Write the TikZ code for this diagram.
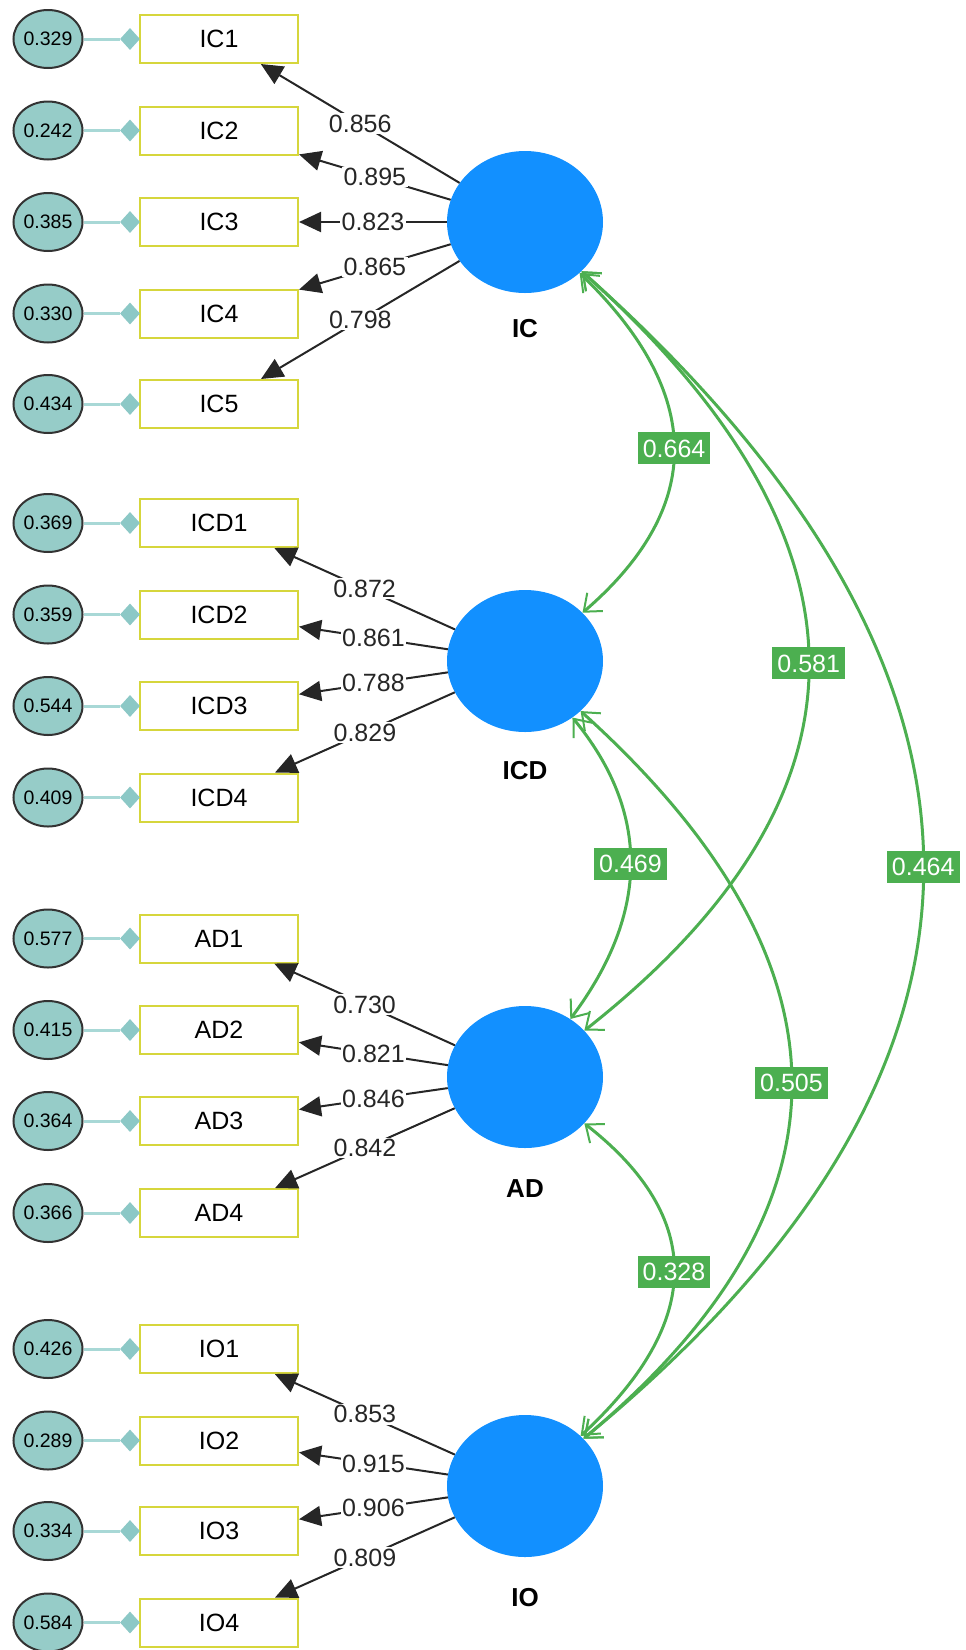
\documentclass[tikz,border=0pt]{standalone}
\usepackage{fontspec}
\setmainfont{Liberation Sans}
\usetikzlibrary{arrows.meta,shapes.geometric,calc}
\definecolor{latblue}{RGB}{18,144,255}
\definecolor{covgreen}{RGB}{76,175,80}
\definecolor{errfill}{RGB}{150,204,200}
\definecolor{errline}{RGB}{168,216,214}
\definecolor{boxyel}{RGB}{214,214,60}
\definecolor{dmd}{RGB}{140,200,198}
\newcommand\indrow[3]{%
  \node[ind] (#1) at (219,-#2) {#1};
  \node[err] (e#1) at (48,-#2) {#3};
  \node[dia] (d#1) at (130,-#2) {};
  \draw[errlink] (e#1) -- (d#1);
}
% quadratic-like covariance curve: from anchor #1 to anchor #2 with quadratic control #3, label #4
\newcommand\covcurve[4]{%
  \draw[cov] (#1) .. controls ($(#1)!0.6667!(#3)$) and ($(#2)!0.6667!(#3)$) .. node[covlab,pos=0.5] {#4} (#2);
}
\begin{document}
\begin{tikzpicture}[x=1pt,y=1pt,
 ind/.style={draw=boxyel, line width=2pt, fill=white, minimum width=158pt, minimum height=48pt, inner sep=0pt, font=\fontsize{25}{30}\selectfont},
 err/.style={ellipse, draw=black!80, line width=2pt, fill=errfill, minimum width=62pt, minimum height=58pt, inner sep=0pt, font=\fontsize{19.5}{22}\selectfont},
 dia/.style={diamond, fill=dmd, minimum width=20pt, minimum height=22pt, inner sep=0pt},
 errlink/.style={draw=errline, line width=3pt},
 lat/.style={ellipse, fill=latblue, minimum width=156pt, minimum height=142pt, inner sep=0pt},
 latlab/.style={font=\bfseries\fontsize{26}{30}\selectfont},
 load/.style={draw=black!85, line width=2pt, -{Triangle[length=22pt,width=20pt]}},
 loadlab/.style={fill=white, inner sep=1.5pt, font=\fontsize{25}{30}\selectfont, text=black!85},
 cov/.style={draw=covgreen, line width=3pt, {Straight Barb[length=15pt,width=24pt,line width=2pt]}-{Straight Barb[length=15pt,width=24pt,line width=2pt]}},
 covlab/.style={fill=covgreen, text=white, inner xsep=5pt, inner ysep=0pt, minimum height=32pt, font=\fontsize{25}{30}\selectfont},
]
\useasboundingbox (0,0) rectangle (966,-1650);

% latent variables
\node[lat] (IC)  at (525,-222) {};
\node[lat] (ICD) at (525,-661) {};
\node[lat] (AD)  at (525,-1077) {};
\node[lat] (IO)  at (525,-1486) {};
\node[latlab] (ICt)  at (525,-329) {IC};
\node[latlab] (ICDt) at (525,-771) {ICD};
\node[latlab] (ADt)  at (525,-1189) {AD};
\node[latlab] (IOt)  at (525,-1598) {IO};

% indicators
\indrow{IC1}{39}{0.329}
\indrow{IC2}{130.5}{0.242}
\indrow{IC3}{222}{0.385}
\indrow{IC4}{313.5}{0.330}
\indrow{IC5}{404}{0.434}
\indrow{ICD1}{523}{0.369}
\indrow{ICD2}{614.5}{0.359}
\indrow{ICD3}{706}{0.544}
\indrow{ICD4}{797.5}{0.409}
\indrow{AD1}{938.5}{0.577}
\indrow{AD2}{1030}{0.415}
\indrow{AD3}{1121}{0.364}
\indrow{AD4}{1213}{0.366}
\indrow{IO1}{1349}{0.426}
\indrow{IO2}{1440.5}{0.289}
\indrow{IO3}{1531}{0.334}
\indrow{IO4}{1622.5}{0.584}

% loadings
\draw[load] (IC) -- node[loadlab]{0.856} (IC1);
\draw[load] (IC) -- node[loadlab]{0.895} (IC2);
\draw[load] (IC) -- node[loadlab]{0.823} (IC3);
\draw[load] (IC) -- node[loadlab]{0.865} (IC4);
\draw[load] (IC) -- node[loadlab]{0.798} (IC5);
\draw[load] (ICD) -- node[loadlab]{0.872} (ICD1);
\draw[load] (ICD) -- node[loadlab]{0.861} (ICD2);
\draw[load] (ICD) -- node[loadlab]{0.788} (ICD3);
\draw[load] (ICD) -- node[loadlab]{0.829} (ICD4);
\draw[load] (AD) -- node[loadlab]{0.730} (AD1);
\draw[load] (AD) -- node[loadlab]{0.821} (AD2);
\draw[load] (AD) -- node[loadlab]{0.846} (AD3);
\draw[load] (AD) -- node[loadlab]{0.842} (AD4);
\draw[load] (IO) -- node[loadlab]{0.853} (IO1);
\draw[load] (IO) -- node[loadlab]{0.915} (IO2);
\draw[load] (IO) -- node[loadlab]{0.906} (IO3);
\draw[load] (IO) -- node[loadlab]{0.809} (IO4);

% covariances (quadratic control points)
\coordinate (q664) at (767,-454);
\coordinate (q581) at (1034.5,-676);
\coordinate (q464) at (1264,-878.5);
\coordinate (q469) at (689.5,-860);
\coordinate (q505) at (1001,-1090.5);
\coordinate (q328) at (765.5,-1265);
\covcurve{IC.-43.8}{ICD.40.5}{q664}{0.664}
\covcurve{IC.-41.7}{AD.38.2}{q581}{0.581}
\covcurve{IC.-41.6}{IO.39.4}{q464}{0.464}
\covcurve{ICD.-50.4}{AD.52.8}{q469}{0.469}
\covcurve{ICD.-42.1}{IO.39.7}{q505}{0.505}
\covcurve{AD.-38}{IO.42.6}{q328}{0.328}
\end{tikzpicture}
\end{document}
